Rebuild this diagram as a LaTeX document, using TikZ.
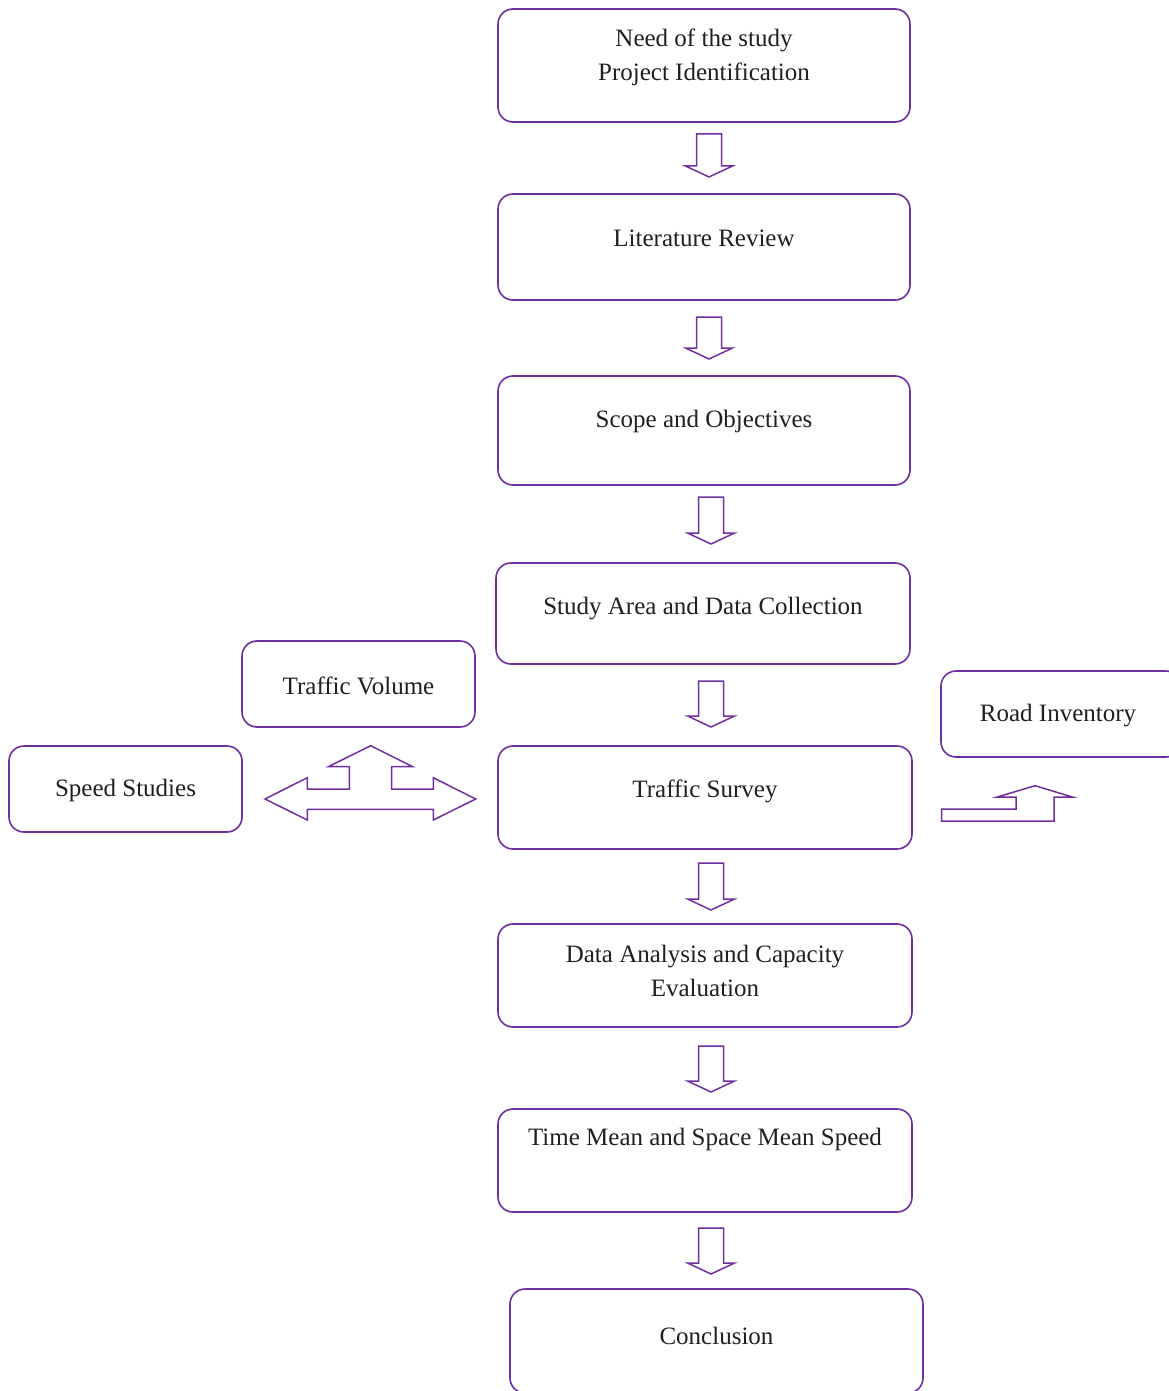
\documentclass[tikz,border=0pt]{standalone}
\usepackage{fontspec}
\setmainfont{Liberation Serif}
\definecolor{pur}{HTML}{7030A0}
\definecolor{ink}{HTML}{231F20}
\newcommand\downarr[3]{%
  \draw[blockarrow] (#1-12.5,#2) -- (#1+12.5,#2) -- (#1+12.5,#3-11) -- (#1+23.5,#3-11) -- (#1,#3) -- (#1-23.5,#3-11) -- (#1-12.5,#3-11) -- cycle;}
\begin{document}
\begin{tikzpicture}[x=1pt,y=-1pt,
  box/.style={draw=pur, line width=1.6pt, rounded corners=15pt, rectangle, inner sep=0pt, fill=white},
  lbl/.style={text=ink, font=\fontsize{25}{33.5}\selectfont, align=center, inner sep=0pt},
  blockarrow/.style={draw=pur, line width=1.5pt, line join=miter, fill=white}]
\useasboundingbox (0,0) rectangle (1168,1391);
% main boxes
\node[box, minimum width=412, minimum height=113] (b1) at (704,65.5) {};
\node[box, minimum width=412, minimum height=106] (b2) at (704,247) {};
\node[box, minimum width=412, minimum height=109] (b3) at (704,430.5) {};
\node[box, minimum width=414, minimum height=101] (b4) at (703,613.5) {};
\node[box, minimum width=414, minimum height=103] (b5) at (705,797.5) {};
\node[box, minimum width=414, minimum height=103] (b6) at (705,975.5) {};
\node[box, minimum width=414, minimum height=103] (b7) at (705,1160.5) {};
\node[box, minimum width=413, minimum height=104] (b8) at (716.5,1341) {};
% side boxes
\node[box, minimum width=233, minimum height=86] (tv) at (358.5,684) {};
\node[box, minimum width=233, minimum height=86] (ss) at (125.5,789) {};
\node[box, minimum width=240, minimum height=86] (ri) at (1061,714) {};
% texts
\node[lbl] (t1) at (704,57.5) {Need of the study\\Project Identification};
\node[lbl] (t2) at (704,238.5) {Literature Review};
\node[lbl] (t3) at (704,421.5) {Scope and Objectives};
\node[lbl] (t4) at (703,608.5) {Study Area and Data Collection};
\node[lbl] (t5) at (705,791.5) {Traffic Survey};
\node[lbl] (t6) at (705,971) {Data Analysis and Capacity\\Evaluation};
\node[lbl] (t7) at (705,1139.5) {Time Mean and Space Mean Speed};
\node[lbl] (t8) at (716.5,1335.5) {Conclusion};
\node[lbl] (t9) at (358.5,685.5) {Traffic Volume};
\node[lbl] (t10) at (125.5,790.5) {Speed Studies};
\node[lbl] (t11) at (1058,715.5) {Road Inventory};
% down arrows
\downarr{709}{134}{177}
\downarr{709}{317}{359}
\downarr{711}{497}{544}
\downarr{711}{681}{727}
\downarr{711}{863}{910}
\downarr{711}{1046}{1092}
\downarr{711}{1228}{1274}
% three-way arrow
\draw[blockarrow] (265,799) -- (307.3,777.7) -- (307.3,789) -- (349.3,789) -- (349.3,766.7) -- (328.3,766.7) -- (370.7,745.7) -- (412.7,766.7) -- (391.7,766.7) -- (391.7,789) -- (433.3,789) -- (433.3,777.7) -- (475.7,799) -- (433.3,820) -- (433.3,809.3) -- (307.3,809.3) -- (307.3,820) -- cycle;
% bent up arrow
\draw[blockarrow] (941.7,821) -- (941.7,809) -- (1016,809) -- (1016,797) -- (997.3,797) -- (1035,785.7) -- (1072.3,797) -- (1054,797) -- (1054,821) -- cycle;
\end{tikzpicture}
\end{document}
